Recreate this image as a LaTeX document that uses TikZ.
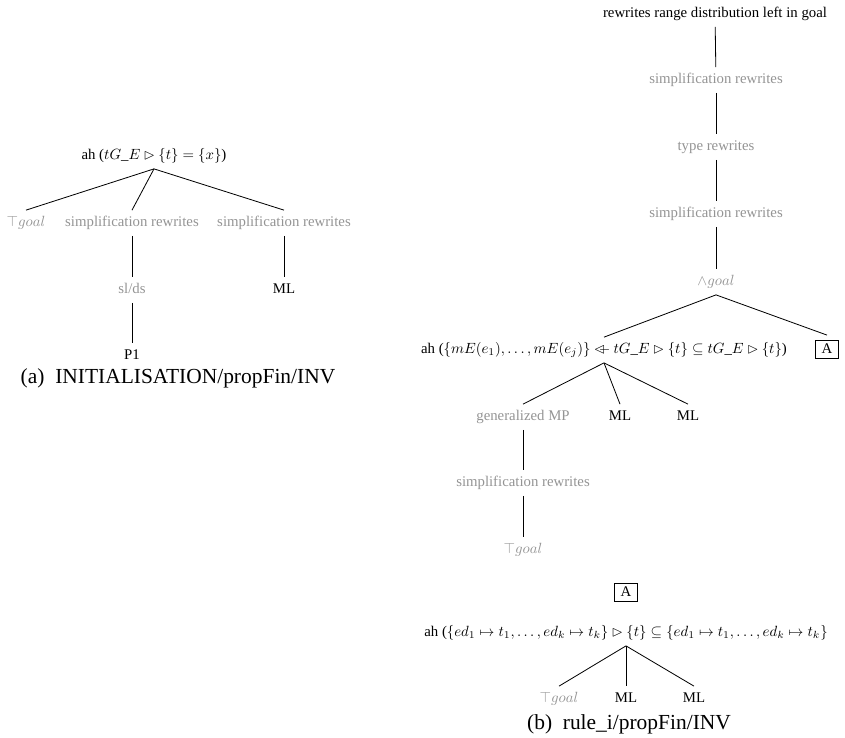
\documentclass[tikz,border=0pt]{standalone}
\usepackage{amssymb}
\usepackage[no-math]{fontspec}
\setmainfont{Liberation Serif}
\newcommand{\dsub}{\mathbin{\lhd\mkern-13mu\relbar}}
\begin{document}
\begin{tikzpicture}[x=0.676pt,y=-0.676pt,
  lbl/.style={font=\fontsize{10}{12}\selectfont, text height=7pt, text depth=2pt, inner sep=4pt},
  stepnode/.style={lbl, text=black!42},
  res/.style={lbl, text=black},
  refbox/.style={draw, line width=0.5pt, font=\fontsize{10}{12}\selectfont, minimum width=15.5pt, minimum height=12pt, inner sep=0pt, outer sep=3.4pt},
  edge/.style={line width=0.55pt},
  captext/.style={font=\fontsize{14.5}{17}\selectfont, inner sep=0pt, anchor=base}]
\useasboundingbox (0,0) rectangle (845,737);

% (a) INITIALISATION/propFin/INV
\node[res] (a0) at (154,156) {ah ($tG\_E \rhd \{t\} = \{x\}$)};
\node[stepnode] (a1) at (26,223) {$\top goal$};
\node[stepnode] (a2) at (132,223) {simplification rewrites};
\node[stepnode] (a3) at (284,223) {simplification rewrites};
\node[stepnode] (a4) at (132,290) {sl/ds};
\node[res] (a5) at (132,356) {P1};
\node[res] (a6) at (284,290) {ML};
\draw[edge] (a0.south) -- (a1.north);
\draw[edge] (a0.south) -- (a2.north);
\draw[edge] (a0.south) -- (a3.north);
\draw[edge] (a2) -- (a4);
\draw[edge] (a4) -- (a5);
\draw[edge] (a3) -- (a6);
\node[captext] (capa) at (178,383) {(a)\enspace INITIALISATION/propFin/INV};

% (b) rule_i/propFin/INV
\node[res] (b0) at (715,14) {rewrites range distribution left in goal};
\node[stepnode] (b1) at (716,80) {simplification rewrites};
\node[stepnode] (b2) at (716,147) {type rewrites};
\node[stepnode] (b3) at (716,214) {simplification rewrites};
\node[stepnode] (b4) at (716,282) {$\wedge goal$};
\node[res] (b5) at (604,350) {ah ($\{mE(e_1),\ldots,mE(e_j)\} \dsub tG\_E \rhd \{t\} \subseteq tG\_E \rhd \{t\}$)};
\node[refbox] (b6) at (827,349) {A};
\node[stepnode] (b7) at (523,417) {generalized MP};
\node[res] (b8) at (620,417) {ML};
\node[res] (b9) at (688,417) {ML};
\node[stepnode] (b10) at (523,483) {simplification rewrites};
\node[stepnode] (b11) at (523,550) {$\top goal$};
\draw[edge] (b0) -- (b1);
\draw[edge] (b1) -- (b2);
\draw[edge] (b2) -- (b3);
\draw[edge] (b3) -- (b4);
\draw[edge] (b4.south) -- (b5.north);
\draw[edge] (b4.south) -- (b6.north);
\draw[edge] (b5.south) -- (b7.north);
\draw[edge] (b5.south) -- (b8.north);
\draw[edge] (b5.south) -- (b9.north);
\draw[edge] (b7) -- (b10);
\draw[edge] (b10) -- (b11);

\node[refbox] (c0) at (626,592) {A};
\node[res] (c1) at (626,633) {ah ($\{ed_1 \mapsto t_1,\ldots,ed_k \mapsto t_k\} \rhd \{t\} \subseteq \{ed_1 \mapsto t_1,\ldots,ed_k \mapsto t_k\}$};
\node[stepnode] (c2) at (559,699) {$\top goal$};
\node[res] (c3) at (626,699) {ML};
\node[res] (c4) at (694,699) {ML};
\draw[edge] (c1.south) -- (c2.north);
\draw[edge] (c1.south) -- (c3.north);
\draw[edge] (c1.south) -- (c4.north);
\node[captext] (capb) at (629,729) {(b)\enspace rule\_i/propFin/INV};
\end{tikzpicture}
\end{document}
